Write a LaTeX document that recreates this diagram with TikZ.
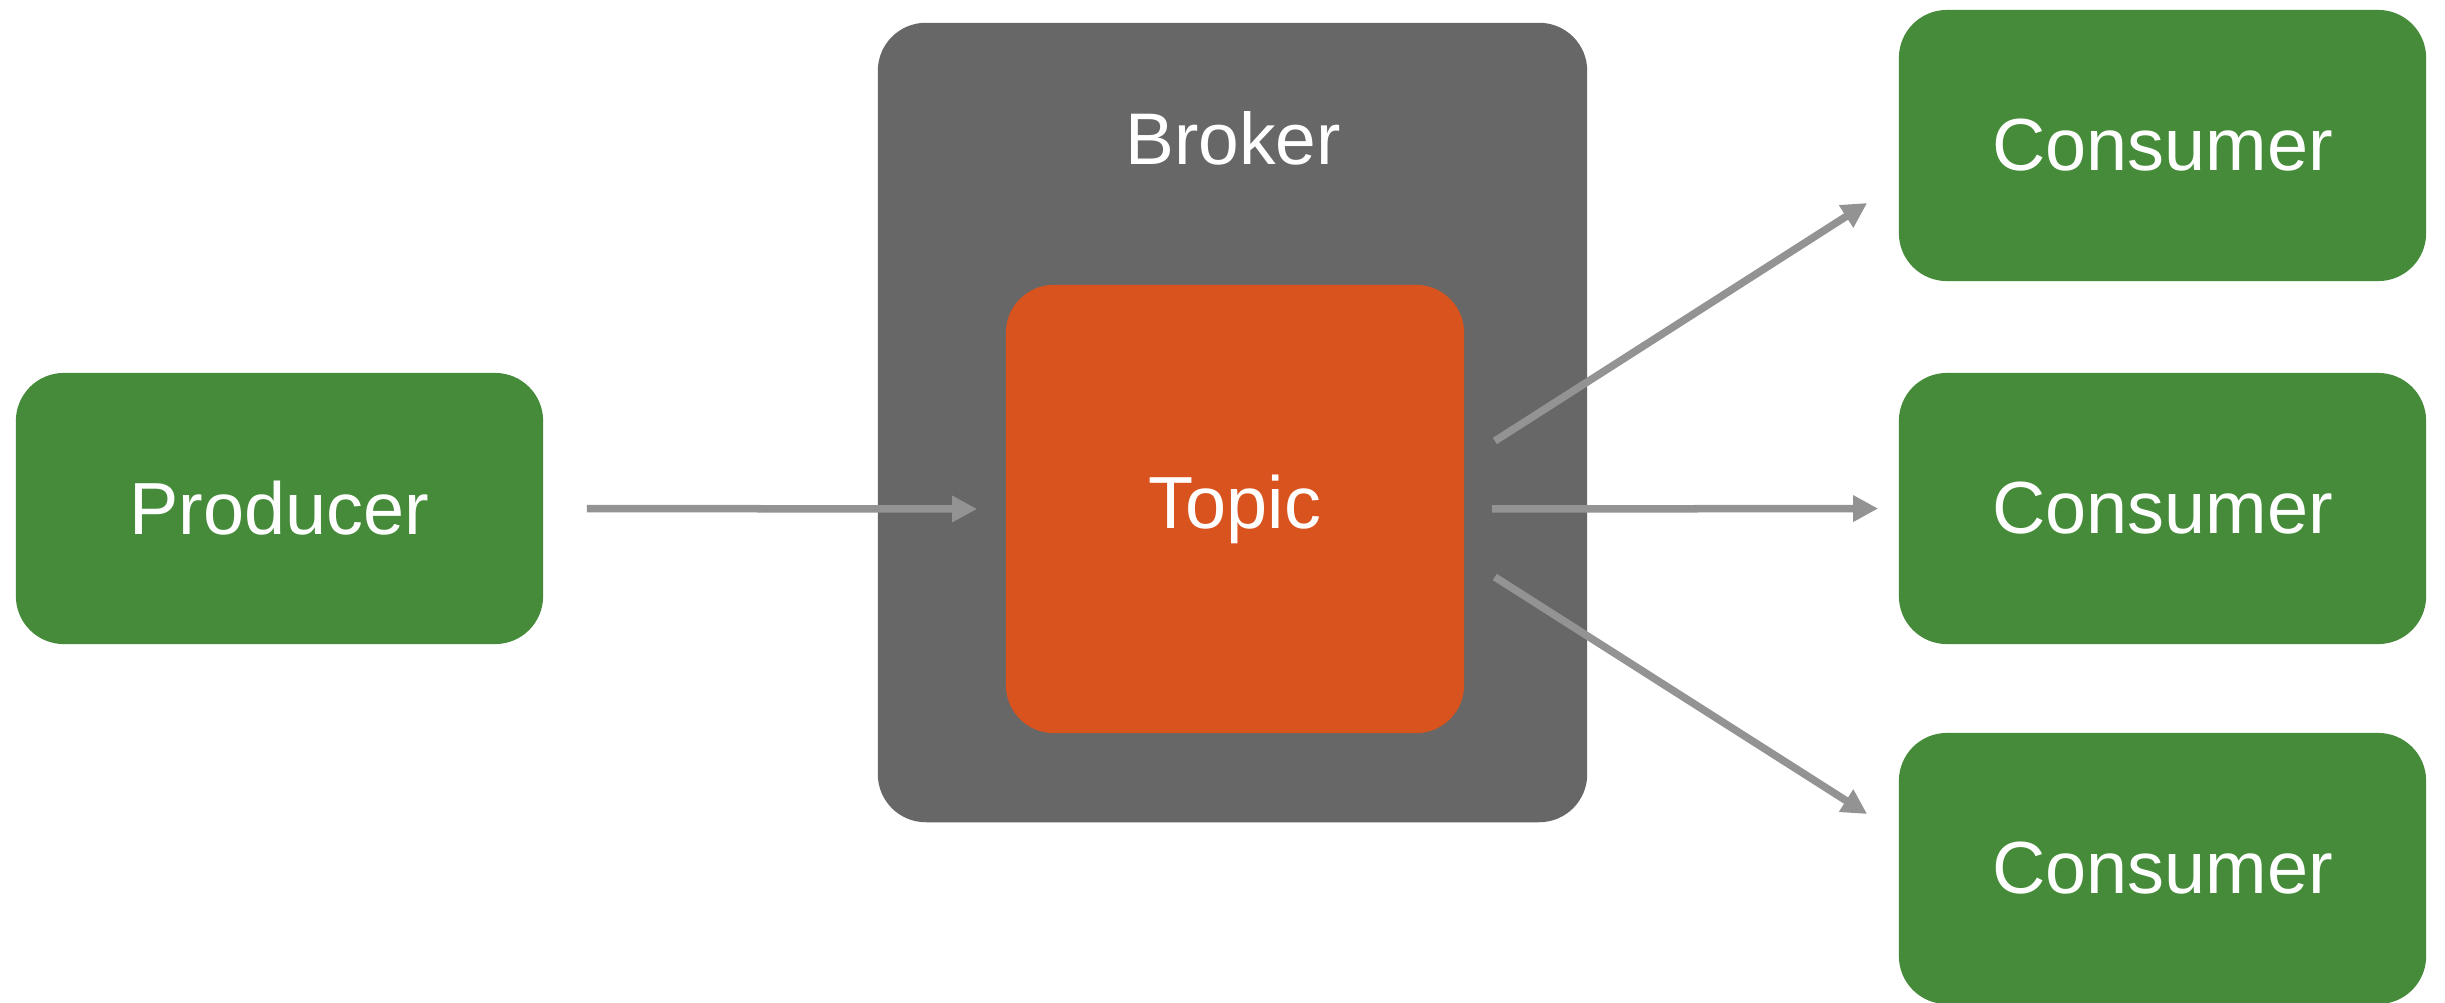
\documentclass[tikz,border=0pt]{standalone}
\usepackage{fontspec}
\setmainfont{Liberation Sans}
\usetikzlibrary{arrows.meta,calc}
\definecolor{boxgreen}{RGB}{69,139,57}
\definecolor{brokergray}{RGB}{103,103,103}
\definecolor{topicorange}{RGB}{216,83,30}
\definecolor{arrowgray}{RGB}{147,147,147}
\begin{document}
\begin{tikzpicture}[x=0.01cm,y=-0.01cm,
  boxbase/.style={rectangle, rounded corners=0.48cm, inner sep=0pt, text=white,
    font=\fontsize{21}{25}\selectfont},
  greenbox/.style={boxbase, fill=boxgreen, minimum width=5.27cm, minimum height=2.71cm},
  brokerbox/.style={boxbase, fill=brokergray, minimum width=7.09cm, minimum height=7.99cm},
  topicbox/.style={boxbase, fill=topicorange, minimum width=4.58cm, minimum height=4.48cm},
  labeltext/.style={text=white, inner sep=0pt, font=\fontsize{20.8}{25}\selectfont},
  flow/.style={draw=arrowgray, line width=0.075cm, -{Triangle[length=0.25cm,width=0.25cm]}}]
\clip (0,0) rectangle (2445,1002);
\fill[white] (0,0) rectangle (2445,1002);

\node[greenbox] (prod) at (279.5,508.5) {Producer};
\node[brokerbox] (broker) at (1232.5,422.5) {};
\node[labeltext, anchor=base] (brokerlabel) at (1233,164) {Broker};
\node[topicbox] (topic) at (1235,509) {Topic};
\node[greenbox] (cons1) at (2162.5,145.5) {Consumer};
\node[greenbox] (cons2) at (2162.5,508.5) {Consumer};
\node[greenbox] (cons3) at (2162.5,868.5) {Consumer};

\draw[flow, shorten <=0.43cm, shorten >=0.28cm] (prod.east) -- (topic.west);
\draw[flow, shorten <=0.27cm, shorten >=0.20cm] (topic.east) -- (cons2.west);

\coordinate (upstart) at ($(topic.east)+(30,-68)$);
\coordinate (upend) at ($(cons1.west)+(-31,57.5)$);
\coordinate (lowstart) at ($(topic.east)+(30,68)$);
\coordinate (lowend) at ($(cons3.west)+(-31,-54.5)$);
\draw[flow] (upstart) -- (upend);
\draw[flow] (lowstart) -- (lowend);
\end{tikzpicture}
\end{document}
